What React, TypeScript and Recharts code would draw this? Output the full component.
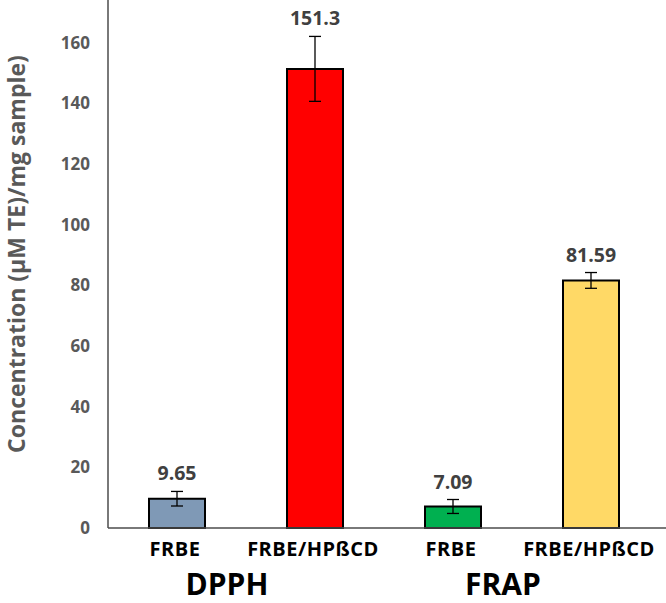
import React from "react";
import {
  BarChart,
  Bar,
  XAxis,
  YAxis,
  Cell,
  ErrorBar,
  LabelList,
  Label,
} from "recharts";

const samples = ["FRBE", "FRBE/HPßCD", "FRBE", "FRBE/HPßCD"];
const assays = ["DPPH", "DPPH", "FRAP", "FRAP"];
const values = [9.65, 151.3, 7.09, 81.59];
const errors = [2.4, 10.7, 2.3, 2.6];
const valueLabels = ["9.65", "151.3", "7.09", "81.59"];
const barColors = ["#7F99B6", "#FF0000", "#00B050", "#FFD966"];
const yTicks = [0, 20, 40, 60, 80, 100, 120, 140, 160];

const data = samples.map((s, i) => ({
  name: s,
  assay: assays[i],
  value: values[i],
  err: errors[i],
}));

const FONT = "'Open Sans', sans-serif";

const XTick = (props: any) => {
  const { x, y, payload, index } = props;
  return (
    <g>
      <text
        x={x - 2}
        y={y + 28}
        textAnchor="middle"
        fontFamily={FONT}
        fontWeight={700}
        fontSize={20}
        letterSpacing={0.5}
        fill="#000"
      >
        {payload.value}
      </text>
      {index % 2 === 0 && (
        <text
          x={x + 50}
          y={y + 67}
          textAnchor="middle"
          fontFamily={FONT}
          fontWeight={700}
          fontSize={30}
          fill="#000"
        >
          {assays[index]}
        </text>
      )}
    </g>
  );
};

const ValueLabel = (props: any) => {
  const { x, y, width, height, index } = props;
  const errPx = (errors[index] * height) / values[index];
  return (
    <text
      x={x + width / 2}
      y={y - errPx - 11}
      textAnchor="middle"
      fontFamily={FONT}
      fontWeight={700}
      fontSize={19.5}
      fill="#404040"
    >
      {valueLabels[index]}
    </text>
  );
};

const YTitle = (props: any) => {
  const vb = props.viewBox;
  const cx = vb.x + 25;
  const cy = vb.y + vb.height / 2 - 10;
  return (
    <text
      transform={`translate(${cx},${cy}) rotate(-90)`}
      textAnchor="middle"
      fontFamily={FONT}
      fontWeight={700}
      fontSize={23}
      fill="#595959"
    >
      Concentration (µM TE)/mg sample)
    </text>
  );
};

export default function App() {
  return (
    <div style={{ position: "absolute", left: 0, top: 0, background: "#fff" }}>
      <BarChart
        width={666}
        height={603}
        data={data}
        margin={{ top: 0, right: 0, left: 0, bottom: 0 }}
      >
        <XAxis
          dataKey="name"
          height={75}
          padding={{ left: 0, right: 6 }}
          tickLine={false}
          tickSize={0}
          tickMargin={0}
          interval={0}
          axisLine={{ stroke: "#4d4d4d", strokeWidth: 1.5 }}
          tick={<XTick />}
        />
        <YAxis
          width={108}
          domain={[0, 174]}
          ticks={yTicks}
          tickLine={false}
          tickSize={0}
          tickMargin={18}
          axisLine={{ stroke: "#4d4d4d", strokeWidth: 1.5 }}
          tick={{
            fontSize: 17,
            fontFamily: FONT,
            fontWeight: 700,
            fill: "#595959",
          }}
        >
          <Label content={<YTitle />} />
        </YAxis>
        <Bar
          dataKey="value"
          barSize={56}
          stroke="#000"
          strokeWidth={2}
          isAnimationActive={false}
        >
          {data.map((d, i) => (
            <Cell key={i} fill={barColors[i]} />
          ))}
          <ErrorBar dataKey="err" width={6} stroke="#000" strokeWidth={1.3} />
          <LabelList dataKey="value" content={<ValueLabel />} />
        </Bar>
      </BarChart>
    </div>
  );
}
